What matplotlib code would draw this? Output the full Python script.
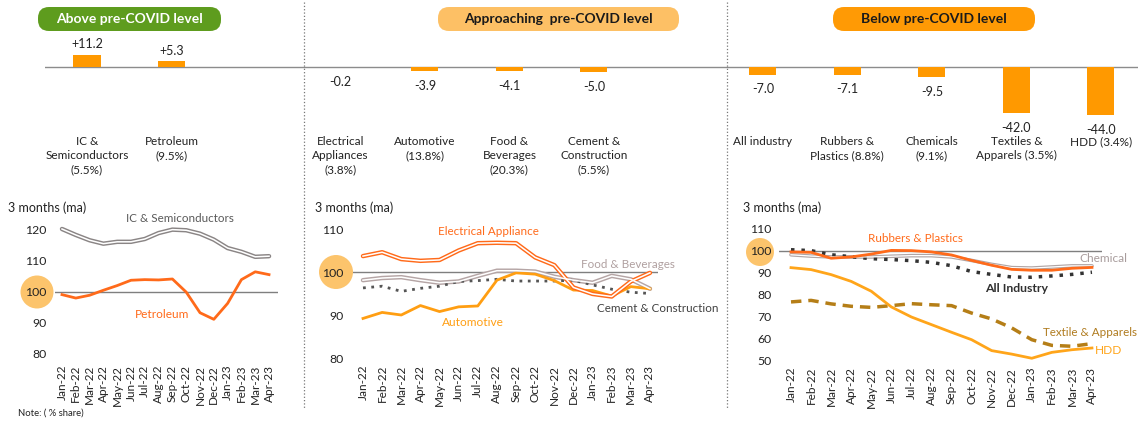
import matplotlib
matplotlib.use("Agg")
import matplotlib.pyplot as plt
from matplotlib.patches import FancyBboxPatch, Ellipse
from matplotlib.lines import Line2D
from matplotlib.transforms import IdentityTransform, blended_transform_factory

plt.rcParams['font.family'] = ['Lato', 'DejaVu Sans']

W, H = 1140, 421

# ---- data ----
months = ['Jan-22', 'Feb-22', 'Mar-22', 'Apr-22', 'May-22', 'Jun-22', 'Jul-22',
          'Aug-22', 'Sep-22', 'Oct-22', 'Nov-22', 'Dec-22', 'Jan-23', 'Feb-23',
          'Mar-23', 'Apr-23']

group_sizes = [2, 4, 5]
bar_labels = ['IC &\nSemiconductors\n(5.5%)', 'Petroleum\n(9.5%)',
              'Electrical\nAppliances\n(3.8%)', 'Automotive\n(13.8%)',
              'Food &\nBeverages\n(20.3%)', 'Cement &\nConstruction\n(5.5%)',
              'All industry', 'Rubbers &\nPlastics (8.8%)', 'Chemicals\n(9.1%)',
              'Textiles &\nApparels (3.5%)', 'HDD (3.4%)']
bar_values = [11.2, 5.3, -0.2, -3.9, -4.1, -5.0, -7.0, -7.1, -9.5, -42.0, -44.0]

ic_semi = [120.0, 118.1, 116.4, 115.3, 115.9, 115.9, 116.8, 118.7, 119.8, 119.6,
           118.5, 116.6, 113.9, 112.7, 111.1, 111.3]
petroleum = [99.0, 97.9, 98.8, 100.4, 101.9, 103.6, 103.8, 103.7, 104.0, 99.8,
             93.2, 91.1, 96.2, 103.8, 106.3, 105.4]

elec_appl = [103.7, 104.6, 103.0, 102.6, 102.8, 105.0, 106.7, 106.8, 106.7, 103.4,
             101.6, 96.4, 94.9, 94.3, 97.8, 99.8]
food_bev = [98.1, 98.6, 98.8, 98.1, 97.5, 97.8, 99.1, 100.3, 100.3, 100.1,
            98.9, 98.1, 97.5, 99.1, 98.3, 96.1]
cement = [96.3, 96.7, 95.5, 96.2, 96.7, 97.8, 98.0, 98.3, 97.9, 97.9,
          97.9, 98.1, 97.0, 96.0, 95.3, 95.0]
automotive = [89.2, 90.6, 90.0, 92.2, 90.8, 91.9, 92.1, 98.1, 99.8, 99.5,
              98.0, 95.8, 95.7, 94.4, 96.6, 96.1]

rubbers = [99.5, 99.3, 96.6, 97.2, 98.5, 100.2, 100.1, 99.5, 98.1, 95.6,
           93.4, 91.5, 91.1, 91.1, 92.0, 92.4]
chemical = [98.2, 97.6, 97.2, 97.2, 97.2, 97.5, 97.8, 97.8, 97.2, 95.6,
            93.8, 92.3, 92.1, 92.6, 93.1, 93.1]
all_industry = [100.5, 100.1, 98.2, 97.3, 96.4, 96.0, 95.5, 94.7, 93.2, 90.5,
                89.2, 88.0, 87.9, 88.5, 89.2, 90.2]
textile = [76.6, 77.3, 75.7, 74.6, 74.1, 74.9, 75.8, 75.3, 74.9, 71.5,
           68.8, 64.7, 59.3, 56.7, 56.3, 57.5]
hdd = [92.3, 91.4, 89.1, 86.0, 81.5, 74.3, 69.7, 66.2, 62.7, 59.3,
       54.3, 52.7, 50.8, 53.5, 54.7, 55.5]

# ---- colours ----
RED_OR = '#FF6A1A'
ORANGE = '#FF9E12'
BAR_C = '#FF9900'
CIRCLE_C = '#FCC46C'

fig = plt.figure(figsize=(11.4, 4.21), dpi=100)


def fx(x):
    return x / W


def fy(y):
    return 1 - y / H


def add_ax(l, t, r, b):
    ax = fig.add_axes([l / W, 1 - b / H, (r - l) / W, (b - t) / H])
    ax.set_facecolor('none')
    for s in ax.spines.values():
        s.set_visible(False)
    return ax


def ftext(x, y, s, **kw):
    kw.setdefault('ha', 'center')
    kw.setdefault('va', 'center')
    fig.text(fx(x), fy(y), s, **kw)


# ---- top bar strip ----
bx = add_ax(45, 30, 1138, 130)
pos = []
start = 0
for g in group_sizes:
    pos += list(range(start, start + g))
    start += g + 1
bx.bar(pos, bar_values, width=0.32, color=BAR_C, zorder=2)
bx.axhline(0, color='#8c8c8c', lw=1, zorder=1)
bx.set_xlim(-0.497, 12.44)
bx.set_ylim(-57.3, 33.6)
bx.set_xticks([])
bx.set_yticks([])
for p, v in zip(pos, bar_values):
    if v >= 0:
        bx.annotate(f'{v:+.1f}', (p, v), xytext=(0, 3), textcoords='offset points',
                    ha='center', va='bottom', fontsize=9, color='#222222')
    else:
        bx.annotate(f'{v:.1f}', (p, v), xytext=(0, -6), textcoords='offset points',
                    ha='center', va='top', fontsize=9, color='#222222')
tr = blended_transform_factory(bx.transData, fig.transFigure)
for p, lab in zip(pos, bar_labels):
    bx.text(p, fy(136), lab, transform=tr, ha='center', va='top', fontsize=8.5,
            linespacing=1.35, color='#222222')

# ---- dividers ----
for xd in (304, 727):
    fig.add_artist(Line2D([fx(xd)] * 2, [fy(2), fy(408)], transform=fig.transFigure,
                          ls=':', color='#777777', lw=0.9))

# ---- badges ----
badges = [(38, 221, 'Above pre-COVID level', '#5E9C1E', 'white'),
          (438, 679, 'Approaching  pre-COVID level', '#FDC065', '#1a1a1a'),
          (833, 1035, 'Below pre-COVID level', '#FF9A05', '#1a1a1a')]
for l, r, s, fc, tc in badges:
    fig.add_artist(FancyBboxPatch((l, H - 31), r - l, 24,
                                  boxstyle='round,pad=0,rounding_size=11',
                                  transform=IdentityTransform(), fc=fc, ec='none'))
    ftext((l + r) / 2, 19, s, color=tc, fontsize=10, fontweight='bold')


def style_line_ax(ax, xlim, ylim, yticks, ypad):
    ax.set_xlim(*xlim)
    ax.set_ylim(*ylim)
    ax.set_xticks(range(len(months)))
    ax.set_xticklabels(months, rotation=90, fontsize=8.5, color='#222222')
    ax.set_yticks(yticks)
    ax.set_yticklabels([str(t) for t in yticks], fontsize=8.8, color='#222222')
    ax.tick_params(axis='both', length=0)
    ax.tick_params(axis='x', pad=2)
    ax.tick_params(axis='y', pad=ypad)
    ax.axhline(100, color='#7f7f7f', lw=1, zorder=1)


def double_line(ax, y, color, lw=3.2):
    x = range(len(y))
    ax.plot(x, y, color=color, lw=lw, solid_capstyle='round', zorder=3)
    ax.plot(x, y, color='white', lw=lw * 0.35, zorder=4)


# ---- panel 1 ----
a1 = add_ax(55, 222, 278, 362)
style_line_ax(a1, (-0.507, 15.65), (77.44, 122.24), [80, 90, 100, 110, 120], 6)
double_line(a1, ic_semi, '#8a8585')
a1.plot(range(len(months)), petroleum, color=RED_OR, lw=2, zorder=3)
ftext(180, 219, 'IC & Semiconductors', color='#595959', fontsize=8.4)
ftext(162, 314, 'Petroleum', color=RED_OR, fontsize=8.6)

# ---- panel 2 ----
a2 = add_ax(353, 222, 658, 362)
style_line_ax(a2, (-0.523, 15.42), (79.07, 111.63), [80, 90, 100, 110], 7)
double_line(a2, food_bev, '#B5A5A5')
a2.plot(range(len(months)), cement, color='#555555', lw=2, ls=(0, (1, 2)), zorder=3)
a2.plot(range(len(months)), automotive, color=ORANGE, lw=2, zorder=3)
double_line(a2, elec_appl, RED_OR)
ftext(488, 231, 'Electrical Appliance', color=RED_OR, fontsize=8.4)
ftext(628, 264, 'Food & Beverages', color='#B0A0A0', fontsize=8.4)
ftext(658, 309, 'Cement & Construction', color='#404040', fontsize=8.4)
ftext(473, 322, 'Automotive', color=ORANGE, fontsize=8.6)

# ---- panel 3 ----
a3 = add_ax(779, 222, 1102, 364)
style_line_ax(a3, (-0.598, 15.5), (48.17, 113.2), [50, 60, 70, 80, 90, 100, 110], 5.5)
double_line(a3, chemical, '#B0A5A5', lw=2.6)
a3.plot(range(len(months)), rubbers, color=RED_OR, lw=2, zorder=5)
a3.plot(range(len(months)), all_industry, color='#333333', lw=2.5, ls=(0, (1, 2)), zorder=3)
a3.plot(range(len(months)), textile, color='#B57E17', lw=2.5, ls=(0, (3, 2)), zorder=3)
a3.plot(range(len(months)), hdd, color='#FFA51A', lw=2, zorder=3)
ftext(915, 239, 'Rubbers & Plastics', color=RED_OR, fontsize=8.4)
ftext(1103, 258, 'Chemical', color='#A89C9C', fontsize=8.6)
ftext(1017, 289, 'All Industry', color='#303030', fontsize=8.8, fontweight='bold')
ftext(1090, 333, 'Textile & Apparels', color='#B07B1E', fontsize=8.4)
ftext(1109, 351, 'HDD', color='#FFA51A', fontsize=8.6)

# ---- highlight circles behind the "100" labels ----
for cx, cy, r in ((37, 292, 16.5), (336, 272, 17), (760, 252, 14)):
    fig.add_artist(Ellipse((fx(cx), fy(cy)), 2 * r / W, 2 * r / H,
                           transform=fig.transFigure, fc=CIRCLE_C, ec='none', zorder=-1))

for xs in (8, 315, 743):
    ftext(xs, 208, '3 months (ma)', ha='left', fontsize=9, color='#222222')
ftext(18, 413, 'Note: ( % share)', ha='left', fontsize=6.8, color='#222222')

fig.savefig('out.png', dpi=100)
